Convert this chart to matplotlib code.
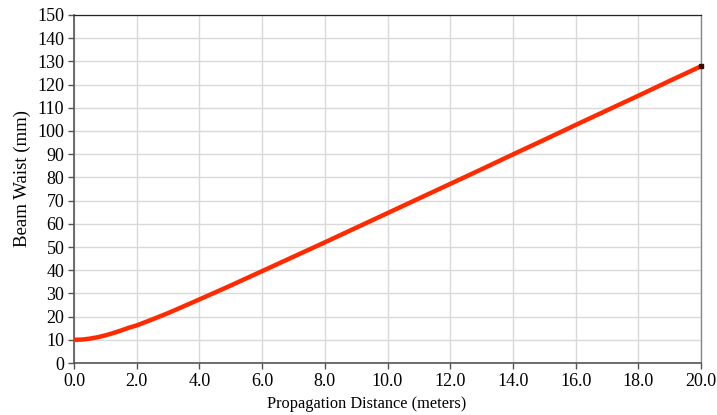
import matplotlib
matplotlib.use("Agg")
import matplotlib.pyplot as plt

distance_m = [0.0, 0.25, 0.5, 0.75, 1.0, 1.25, 1.5, 1.75, 2.0, 2.5, 3.0, 4.0, 5.0, 6.0, 7.0,
              8.0, 9.0, 10.0, 11.0, 12.0, 13.0, 14.0, 15.0, 16.0, 17.0, 18.0, 19.0, 20.0]
beam_waist_mm = [10.0, 10.1, 10.5, 11.1, 11.9, 12.9, 14.0, 15.2, 16.2, 18.8, 21.5, 27.4, 33.4,
                 39.6, 45.8, 52.0, 58.3, 64.6, 70.9, 77.2, 83.5, 89.9, 96.2, 102.6, 108.9,
                 115.2, 121.6, 127.9]
x_ticks = [0, 2, 4, 6, 8, 10, 12, 14, 16, 18, 20]
y_ticks = list(range(0, 151, 10))

plt.rcParams['font.family'] = ['Liberation Serif', 'DejaVu Serif']

fig = plt.figure(figsize=(7.17, 4.15), dpi=100)
ax = fig.add_axes([74/717, 1-363/415, (701-74)/717, (363-15)/415])

ax.plot(distance_m, beam_waist_mm, color='#FF2A00', lw=3.2, solid_capstyle='butt', zorder=3)
ax.plot([distance_m[-1]], [beam_waist_mm[-1]], marker='s', ms=3.5, color='#3a0a00', zorder=4, clip_on=False)

ax.set_xlim(0, 20)
ax.set_ylim(0, 150)
ax.set_xticks(x_ticks)
ax.set_xticklabels([f"{v:.1f}" for v in x_ticks])
ax.set_yticks(y_ticks)
ax.grid(True, color='#D9D9D9', lw=1.0)
ax.set_axisbelow(True)

for side in ['left', 'bottom']:
    ax.spines[side].set_color('#555555')
    ax.spines[side].set_linewidth(1.2)
ax.spines['top'].set_color('#222222')
ax.spines['top'].set_linewidth(0.9)
ax.spines['right'].set_color('#888888')
ax.spines['right'].set_linewidth(1.0)

ax.tick_params(axis='both', direction='out', length=4, width=1, color='#555555',
               labelsize=13, labelcolor='black', pad=3)
ax.set_xlabel('Propagation Distance (meters)', fontsize=11.8)
ax.xaxis.set_label_coords(0.4665, -0.095)
ax.set_ylabel('Beam Waist (mm)', fontsize=13.5)
ax.yaxis.set_label_coords(-0.068, 0.529)

fig.savefig('out.png', dpi=100)
